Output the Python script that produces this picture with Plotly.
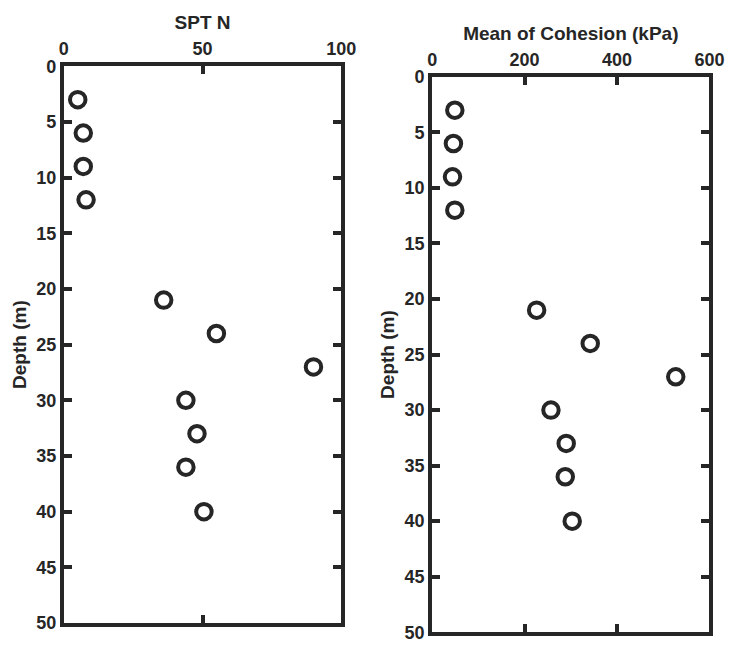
import plotly.graph_objects as go

depth = [3, 6, 9, 12, 21, 24, 27, 30, 33, 36, 40]
spt_n = [5, 7, 7, 8, 36, 55, 90, 44, 48, 44, 50.5]
cohesion = [49, 46, 44, 49, 226, 342, 527, 257, 290, 288, 303]

spt_ticks = [0, 50, 100]
coh_ticks = [0, 200, 400, 600]
depth_ticks = list(range(0, 51, 5))

W, H = 742, 650
INK = "#262626"
FONT = "Liberation Sans"

def px(x):
    return x / W

def py(y):
    return 1 - y / H

def bold(vals):
    return ["<b>%g</b>" % v for v in vals]

fig = go.Figure()
marker = dict(symbol="circle-open", size=15.5, color=INK, line=dict(width=4, color=INK))
fig.add_trace(go.Scatter(x=spt_n, y=depth, mode="markers", marker=marker,
                         xaxis="x", yaxis="y", showlegend=False))
fig.add_trace(go.Scatter(x=cohesion, y=depth, mode="markers", marker=marker,
                         xaxis="x2", yaxis="y2", showlegend=False))

axis_common = dict(
    showline=True, linewidth=4, linecolor=INK, mirror="ticks",
    ticks="inside", ticklen=8, tickwidth=4, tickcolor=INK,
    showgrid=False, zeroline=False,
    tickfont=dict(family=FONT, size=18, color=INK),
)
title_font = dict(family=FONT, size=19, color=INK)

fig.update_layout(
    width=W, height=H,
    margin=dict(l=0, r=0, t=0, b=0),
    paper_bgcolor="white", plot_bgcolor="white",
    font=dict(family=FONT, color=INK),
    xaxis=dict(axis_common, domain=[px(60.5), px(345.5)], range=[0, 100],
               tickvals=spt_ticks, ticktext=bold(spt_ticks), side="top", anchor="y",
               title=dict(text="<b>SPT N</b>", font=title_font, standoff=5)),
    yaxis=dict(axis_common, domain=[py(632.5), py(58)], range=[50, 0],
               tickvals=depth_ticks, ticktext=bold(depth_ticks), anchor="x",
               title=dict(text="<b>Depth (m)</b>", font=title_font, standoff=6)),
    xaxis2=dict(axis_common, domain=[px(439), px(724)], range=[0, 600],
                tickvals=coh_ticks, ticktext=bold(coh_ticks), side="top", anchor="y2",
                title=dict(text="<b>Mean of Cohesion (kPa)</b>", font=title_font, standoff=5)),
    yaxis2=dict(axis_common, domain=[py(642), py(69)], range=[50, 0],
                tickvals=depth_ticks, ticktext=bold(depth_ticks), anchor="x2",
                title=dict(text="<b>Depth (m)</b>", font=title_font, standoff=6)),
)

fig.write_html("out.html")
